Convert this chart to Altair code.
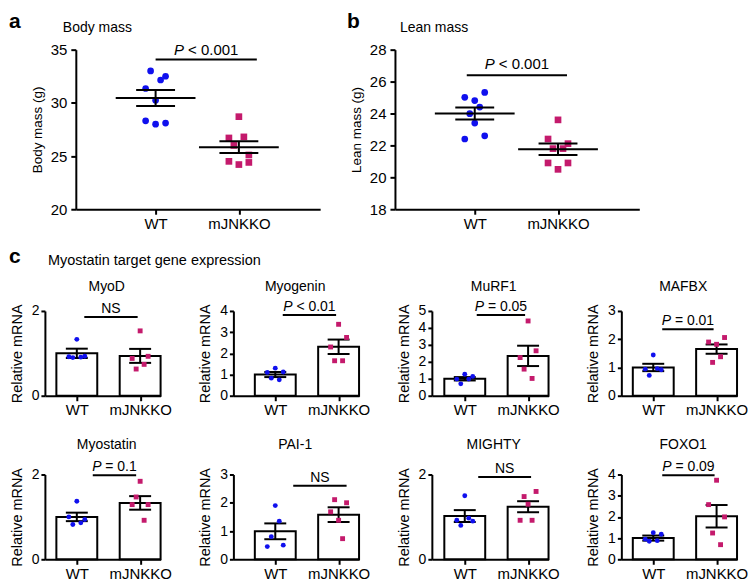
import altair as alt
import pandas as pd

FONT = "Liberation Sans"
BLUE = "#1010ee"
PINK = "#c41a6c"
GROUPS = ["WT", "mJNKKO"]

# ---------------- data ----------------
# a: body mass (g)
body_wt = [30.24, 28.31, 32.5, 33.0, 32.15, 31.35, 28.1, 28.0]
body_ko = [28.7, 26.7, 24.4, 26.0, 26.8, 24.5, 25.1, 24.2]
body_mean = [30.46, 25.83]
body_sem = [0.75, 0.55]
# b: lean mass (g)
lean_wt = [24.81, 25.01, 25.32, 23.99, 24.40, 22.4, 22.6, 23.4]
lean_ko = [23.6, 22.4, 22.11, 21.8, 21.8, 20.9, 20.9, 20.5]
lean_mean = [24.0, 21.76]
lean_sem = [0.38, 0.36]

# c: myostatin target gene expression (relative mRNA)
genes = ["MyoD", "Myogenin", "MuRF1", "MAFBX", "Myostatin", "PAI-1", "MIGHTY", "FOXO1"]
gene_ymax = [2, 4, 5, 3, 2, 3, 2, 4]
gene_wt = [
    [1.33, 0.92, 0.93, 0.90, 0.91],
    [1.3, 1.1, 1.12, 0.83, 0.75],
    [1.27, 0.98, 1.14, 0.7, 0.98],
    [1.44, 0.94, 0.92, 0.72, 0.96],
    [1.37, 1.0, 0.94, 0.82, 0.86],
    [1.9, 0.45, 0.5, 0.8, 1.35],
    [1.5, 0.92, 0.9, 0.8, 0.97],
    [1.25, 0.95, 1.18, 0.85, 0.88],
]
gene_ko = [
    [1.53, 0.88, 0.93, 0.63, 0.74],
    [3.37, 2.3, 2.75, 1.65, 1.65],
    [4.41, 2.25, 2.65, 1.57, 1.02],
    [1.82, 1.9, 2.06, 1.18, 1.38],
    [1.84, 1.29, 1.29, 1.47, 0.92],
    [1.38, 1.68, 2.0, 2.11, 0.73],
    [1.3, 0.92, 1.6, 1.48, 0.92],
    [3.73, 2.58, 2.0, 1.24, 0.69],
]
gene_mean = [[1.0, 0.94], [1.0, 2.31], [1.0, 2.35], [1.0, 1.65],
             [1.0, 1.33], [0.99, 1.58], [1.02, 1.24], [1.0, 2.03]]
gene_sem = [[0.11, 0.165], [0.12, 0.34], [0.1, 0.6], [0.13, 0.165],
            [0.1, 0.16], [0.28, 0.26], [0.14, 0.13], [0.12, 0.53]]
gene_p = ["NS", "P < 0.01", "P = 0.05", "P = 0.01", "P = 0.1", "NS", "NS", "P = 0.09"]
gene_pbar = [1.86, 3.81, 4.76, 2.35, 1.98, 2.6, 1.94, 3.97]

# ---------------- layout constants ----------------
SPREAD8 = [0, -10, 10, -5, 5, -10, 10, 0]
SPREAD5 = [0, -8, 8, -4, 4]
GENE_BRACKET = [(7.5, -2.5), (7.5, -2.5), (12, -3), (9, -3), (16, -4), (18, 8), (13.5, 3), (9, -2)]
COL_W = [116, 126, 117, 116]
SMALL_H = 85
BIG_W, BIG_H = 245, 160
LABELS_EXPR = "datum.value == 0 ? 'WT' : 'mJNKKO'"

CHARW = {"P": 667, " ": 278, "<": 584, "=": 584, ".": 278, "N": 722, "S": 667}


def text_width(s, fs):
    return sum(CHARW.get(c, 556) for c in s) * fs / 1000.0


def points_df(wt, ko, spread):
    rows = []
    for gi, vals in enumerate([wt, ko]):
        for i, v in enumerate(vals):
            rows.append({"g": GROUPS[gi], "gi": gi, "v": v, "j": spread[i % len(spread)]})
    return pd.DataFrame(rows)


def summary_df(mean, sem):
    return pd.DataFrame({
        "g": GROUPS,
        "gi": [0, 1],
        "m": mean,
        "lo": [m - s for m, s in zip(mean, sem)],
        "hi": [m + s for m, s in zip(mean, sem)],
        "base": [0, 0],
    })


def note(text, x, y, fs, weight="normal", align="left", baseline="alphabetic"):
    return alt.Chart(pd.DataFrame({"t": [text]})).mark_text(
        font=FONT, fontSize=fs, fontWeight=weight, align=align,
        baseline=baseline, color="black"
    ).encode(x=alt.value(x), y=alt.value(y), text="t:N")


def p_layers(label, ybar, step, xo, x2o, fs, dy, X, Y):
    cdx = (step + xo + x2o) / 2.0
    df = pd.DataFrame({"gi": [0], "y": [ybar]})
    out = []
    if label.startswith("P"):
        rest = label[1:].strip()
        wP = text_width("P", fs)
        wS = text_width(" ", fs)
        wR = text_width(rest, fs)
        left = cdx - (wP + wS + wR) / 2.0
        out.append(alt.Chart(df).mark_text(
            font=FONT, fontSize=fs, fontStyle="italic", align="left",
            baseline="alphabetic", dx=left, dy=dy, color="black"
        ).encode(x=X("gi"), y=Y("y"), text=alt.value("P")))
        out.append(alt.Chart(df).mark_text(
            font=FONT, fontSize=fs, align="left",
            baseline="alphabetic", dx=left + wP + wS, dy=dy, color="black"
        ).encode(x=X("gi"), y=Y("y"), text=alt.value(rest)))
    else:
        out.append(alt.Chart(df).mark_text(
            font=FONT, fontSize=fs, align="center",
            baseline="alphabetic", dx=cdx, dy=dy, color="black"
        ).encode(x=X("gi"), y=Y("y"), text=alt.value(label)))
    return out


def bracket(ybar, xo, x2o, X, Y):
    df = pd.DataFrame({"a": [0], "b": [1], "y": [ybar]})
    return alt.Chart(df).mark_rule(
        color="black", strokeWidth=2, xOffset=xo, x2Offset=x2o
    ).encode(x=X("a"), x2=alt.X2("b"), y=Y("y"))


def color_shape():
    return dict(
        color=alt.Color("g:N", scale=alt.Scale(domain=GROUPS, range=[BLUE, PINK]), legend=None),
        shape=alt.Shape("g:N", scale=alt.Scale(domain=GROUPS, range=["circle", "square"]), legend=None),
    )


def make_xy(d0, d1, ymin, ymax, yaxis, tick):
    xs = alt.Scale(domain=[d0, d1], nice=False, zero=False)
    xa = alt.Axis(title=None, values=[0, 1], labelExpr=LABELS_EXPR, labelAngle=0,
                  labelFontSize=15, tickSize=tick, labelPadding=2, grid=False)
    ys = alt.Scale(domain=[ymin, ymax], zero=False, nice=False)

    def X(f):
        return alt.X(f"{f}:Q", scale=xs, axis=xa)

    def Y(f):
        return alt.Y(f"{f}:Q", scale=ys, axis=yaxis)
    return X, Y


def scatter_panel(wt, ko, mean, sem, ymin, ymax, yticks, ytitle, plabel, pbar,
                  pxo, px2o, pdy, letter, letter_x, title, title_x):
    W, H = BIG_W, BIG_H
    step = 83.5
    wt_center = 80.0
    d0 = -wt_center / step
    d1 = (W - wt_center) / step
    ya = alt.Axis(values=yticks, title=ytitle, titleFontSize=13.5, labelFontSize=15,
                  tickSize=5, labelPadding=4, titlePadding=6, format="d")
    X, Y = make_xy(d0, d1, ymin, ymax, ya, 5)

    pts = points_df(wt, ko, SPREAD8)
    summ = summary_df(mean, sem)
    half_mean = 40.0 / step
    half_cap = 19.5 / step
    layers = [
        alt.Chart(pts).transform_calculate(xj=f"datum.gi + datum.j / {step}")
        .mark_point(filled=True, opacity=1, size=45).encode(x=X("xj"), y=Y("v"), **color_shape()),
        alt.Chart(summ).transform_calculate(a=f"datum.gi - {half_mean}", b=f"datum.gi + {half_mean}")
        .mark_rule(color="black", strokeWidth=2).encode(x=X("a"), x2=alt.X2("b"), y=Y("m")),
        alt.Chart(summ).mark_rule(color="black", strokeWidth=2).encode(x=X("gi"), y=Y("lo"), y2=alt.Y2("hi")),
        alt.Chart(summ).transform_calculate(a=f"datum.gi - {half_cap}", b=f"datum.gi + {half_cap}")
        .mark_rule(color="black", strokeWidth=2).encode(x=X("a"), x2=alt.X2("b"), y=Y("lo")),
        alt.Chart(summ).transform_calculate(a=f"datum.gi - {half_cap}", b=f"datum.gi + {half_cap}")
        .mark_rule(color="black", strokeWidth=2).encode(x=X("a"), x2=alt.X2("b"), y=Y("hi")),
        bracket(pbar, pxo, px2o, X, Y),
    ]
    layers += p_layers(plabel, pbar, step, pxo, px2o, 15, pdy, X, Y)
    layers += [
        note(letter, letter_x, -22, 21, weight="bold"),
        note(title, title_x, -18, 14),
    ]
    return alt.layer(*layers).properties(width=W, height=H)


def bar_panel(k, width, title_y, extra=None):
    ymax = gene_ymax[k]
    step, bw = 63.5, 41.0
    pad = width - step - bw
    d0 = -(pad + bw / 2) / step
    d1 = 1 + (bw / 2) / step
    ya = alt.Axis(values=list(range(0, ymax + 1)), title="Relative mRNA", titleFontSize=14.5,
                  labelFontSize=14, tickSize=4, labelPadding=2, titlePadding=7, format="d")
    X, Y = make_xy(d0, d1, 0, ymax, ya, 5)

    pts = points_df(gene_wt[k], gene_ko[k], SPREAD5)
    summ = summary_df(gene_mean[k], gene_sem[k])
    xo, x2o = GENE_BRACKET[k]
    half_bar = (bw / 2) / step
    half_cap = 11.0 / step
    layers = [
        alt.Chart(summ).transform_calculate(a=f"datum.gi - {half_bar}", b=f"datum.gi + {half_bar}")
        .mark_rect(fill="white", stroke="black", strokeWidth=2)
        .encode(x=X("a"), x2=alt.X2("b"), y=Y("m"), y2=alt.Y2("base")),
        alt.Chart(summ).mark_rule(color="black", strokeWidth=2).encode(x=X("gi"), y=Y("lo"), y2=alt.Y2("hi")),
        alt.Chart(summ).transform_calculate(a=f"datum.gi - {half_cap}", b=f"datum.gi + {half_cap}")
        .mark_rule(color="black", strokeWidth=2).encode(x=X("a"), x2=alt.X2("b"), y=Y("lo")),
        alt.Chart(summ).transform_calculate(a=f"datum.gi - {half_cap}", b=f"datum.gi + {half_cap}")
        .mark_rule(color="black", strokeWidth=2).encode(x=X("a"), x2=alt.X2("b"), y=Y("hi")),
        alt.Chart(pts).transform_calculate(xj=f"datum.gi + datum.j / {step}")
        .mark_point(filled=True, opacity=1, size=24).encode(x=X("xj"), y=Y("v"), **color_shape()),
        bracket(gene_pbar[k], xo, x2o, X, Y),
    ]
    layers += p_layers(gene_p[k], gene_pbar[k], step, xo, x2o, 14, -4, X, Y)
    layers.append(note(genes[k], 62, title_y, 14, align="center"))
    if extra:
        layers += extra
    return alt.layer(*layers).properties(width=width, height=SMALL_H)


def spacer(w):
    return alt.Chart(pd.DataFrame({"t": [""]})).mark_text().encode(
        x=alt.value(0), y=alt.value(0), text="t:N"
    ).properties(width=w, height=10)


panel_a = scatter_panel(body_wt, body_ko, body_mean, body_sem, 20, 35, [20, 25, 30, 35],
                        "Body mass (g)", "P < 0.001", 34.08, 0, 18, -4, "a", -67, "Body mass", -13)
panel_b = scatter_panel(lean_wt, lean_ko, lean_mean, lean_sem, 18, 28, [18, 20, 22, 24, 26, 28],
                        "Lean mass (g)", "P < 0.001", 26.4, -8, 9, -6, "b", -48, "Lean mass", 5)

c_notes = [
    note("c", -36, -48, 21, weight="bold"),
    note("Myostatin target gene expression", 3, -46, 14.5),
]
row1_panels = [bar_panel(k, COL_W[k], -20, c_notes if k == 0 else None) for k in range(4)]
row2_panels = [bar_panel(k + 4, COL_W[k], -26) for k in range(4)]

# row 0 plot starts 31 px right of the lower rows; gap a->b is 75 px
row0 = alt.hconcat(spacer(16), panel_a, spacer(45), panel_b, spacing=15, bounds="flush")
row1 = alt.hconcat(*row1_panels, spacing=73, bounds="flush")
row2 = alt.hconcat(*row2_panels, spacing=73, bounds="flush")
lower = alt.vconcat(row1, row2, spacing=20)

chart = alt.vconcat(row0, lower, spacing=15).properties(
    padding={"left": 1, "top": 2, "right": 0, "bottom": 0}
).configure_view(stroke=None).configure_axis(
    domainColor="black", domainWidth=2, tickColor="black", tickWidth=2,
    labelColor="black", titleColor="black", labelFont=FONT, titleFont=FONT,
    grid=False, titleFontWeight="normal"
)

chart.save("out.html", embed_options={"renderer": "svg", "actions": False})
